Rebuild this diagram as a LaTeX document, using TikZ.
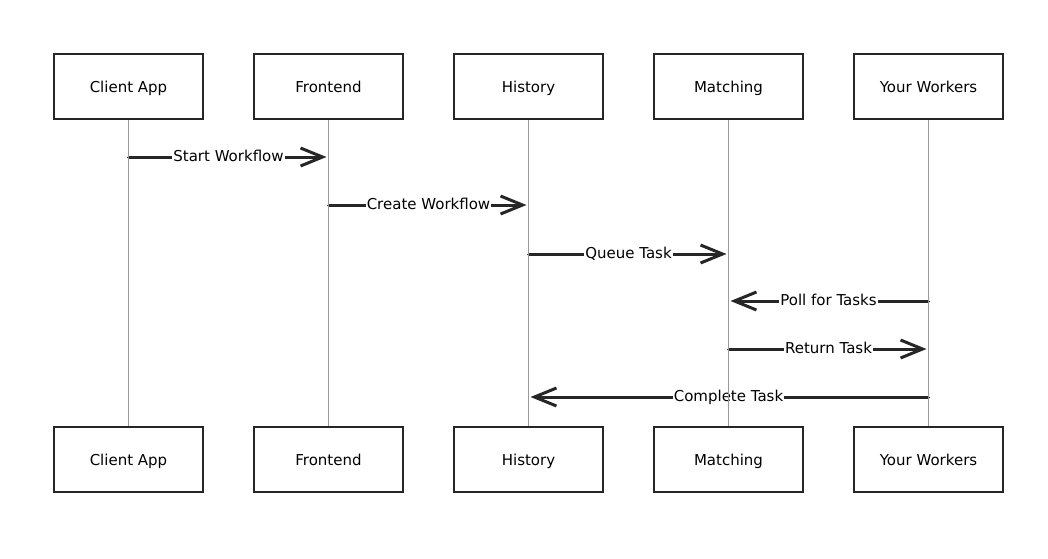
\documentclass[tikz,border=0pt]{standalone}
\usepackage{fontspec}
\setmainfont{DejaVu Sans}
\usetikzlibrary{arrows.meta}

\tikzset{
  actor/.style={draw=black!85, line width=2.2pt, minimum width=149pt, minimum height=65pt,
    inner sep=0pt, text height=11pt, text depth=0pt, font=\fontsize{15}{18}\selectfont},
  lifeline/.style={draw=black!40, line width=0.8pt},
  msg/.style={draw=black!85, line width=3pt, line cap=round,
    -{Straight Barb[length=22pt, width=18pt]}, shorten >=2pt},
  msglabel/.style={fill=white, inner sep=1pt, text height=11pt, text depth=2pt,
    font=\fontsize{15}{18}\selectfont}
}

\begin{document}
\begin{tikzpicture}[x=1pt, y=-1pt]

    \useasboundingbox (0,0) rectangle (1048,558);

    % --- Participants (top) ---
    \node[actor] (client)   at (128.5,86.5) {Client App};
    \node[actor] (frontend) at (328.5,86.5) {Frontend};
    \node[actor] (history)  at (528.5,86.5) {History};
    \node[actor] (matching) at (728.5,86.5) {Matching};
    \node[actor] (workers)  at (928.5,86.5) {Your Workers};

    % --- Participants (bottom) ---
    \node[actor] (clientB)   at (128.5,459.5) {Client App};
    \node[actor] (frontendB) at (328.5,459.5) {Frontend};
    \node[actor] (historyB)  at (528.5,459.5) {History};
    \node[actor] (matchingB) at (728.5,459.5) {Matching};
    \node[actor] (workersB)  at (928.5,459.5) {Your Workers};

    % --- Message end points on the lifelines ---
    \coordinate (m1a) at (client.south   |- 0,157);
    \coordinate (m1b) at (frontend.south |- 0,157);
    \coordinate (m2a) at (frontend.south |- 0,205);
    \coordinate (m2b) at (history.south  |- 0,205);
    \coordinate (m3a) at (history.south  |- 0,254);
    \coordinate (m3b) at (matching.south |- 0,254);
    \coordinate (m4a) at (workers.south  |- 0,301);
    \coordinate (m4b) at (matching.south |- 0,301);
    \coordinate (m5a) at (matching.south |- 0,349);
    \coordinate (m5b) at (workers.south  |- 0,349);
    \coordinate (m6a) at (workers.south  |- 0,397);
    \coordinate (m6b) at (history.south  |- 0,397);

    % --- Messages ---
    \draw[msg] (m1a) -- (m1b) node[msglabel, midway] {Start Workflow};
    \draw[msg] (m2a) -- (m2b) node[msglabel, midway] {Create Workflow};
    \draw[msg] (m3a) -- (m3b) node[msglabel, midway] {Queue Task};
    \draw[msg] (m4a) -- (m4b) node[msglabel, midway] {Poll for Tasks};
    \draw[msg] (m5a) -- (m5b) node[msglabel, midway] {Return Task};
    \draw[msg] (m6a) -- (m6b) node[msglabel, midway] {Complete Task};

    % --- Lifelines ---
    \draw[lifeline] (client)   -- (clientB);
    \draw[lifeline] (frontend) -- (frontendB);
    \draw[lifeline] (history)  -- (historyB);
    \draw[lifeline] (matching) -- (matchingB);
    \draw[lifeline] (workers)  -- (workersB);

\end{tikzpicture}
\end{document}
